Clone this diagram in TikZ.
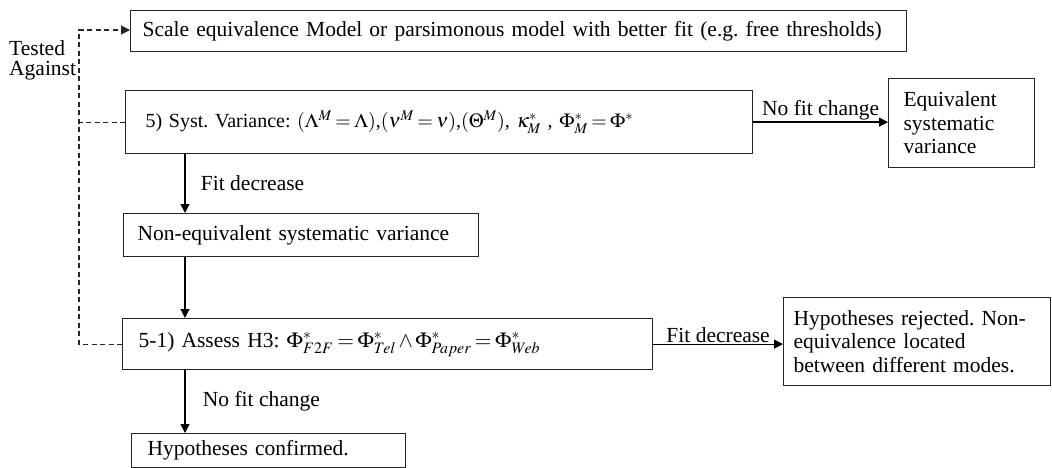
\documentclass[tikz,border=0pt]{standalone}
\usepackage{mathptmx}
\usepackage{fontspec}
\setmainfont{Liberation Serif}
\usepackage{tikz}
\usetikzlibrary{arrows.meta, positioning}
\frenchspacing
\thickmuskip=3mu
\medmuskip=2mu

\begin{document}
\begin{tikzpicture}[
  x=1pt, y=-1pt,
  font=\fontsize{21.5}{23.5}\selectfont,
  box/.style={
    draw=black!85,
    line width=1.2pt,
    anchor=north west,
    align=left,
    inner xsep=16pt,
    inner ysep=0pt
  },
  arrow/.style={
    draw=black,
    -{Triangle[length=9pt,width=9pt]},
    line width=1.2pt
  },
  testline/.style={
    draw=black!85,
    dash pattern=on 5pt off 3.5pt,
    line width=1.1pt
  }
]

\useasboundingbox (0,0) rectangle (1052,468);

% Model the tests are run against
\node[box, text width=752pt, minimum height=41pt, inner xsep=12pt] (scale) at (130,10)
{Scale equivalence Model or parsimonous model with better fit (e.g. free thresholds)};

% Step 5 and its outcomes
\node[box, text width=587pt, minimum height=63pt, inner xsep=20pt, font=\fontsize{20}{23}\selectfont] (syst) at (125,90)
{5) Syst. Variance: $(\Lambda^{M}=\Lambda)$,$(\nu^{M}=\nu)$,$(\Theta^{M})$, $\kappa^{*}_{M}$ , $\Phi^{*}_{M}=\Phi^{*}$};

\node[box, text width=116pt, minimum height=89pt, inner xsep=15pt] (equiv) at (888,78)
{Equivalent\\
systematic\\
variance};

\node[box, text width=327pt, minimum height=43pt, inner xsep=14pt] (noneq) at (123,213)
{Non-equivalent systematic variance};

% Step 5-1 and its outcomes
\node[box, text width=498pt, minimum height=51pt] (assess) at (122,318)
{5-1) Assess H3: $\Phi^{*}_{F2F}=\Phi^{*}_{Tel}\wedge\Phi^{*}_{Paper}=\Phi^{*}_{Web}$};

\node[box, text width=247pt, minimum height=88pt, inner xsep=10pt] (reject) at (783,297)
{Hypotheses rejected. Non-\\
equivalence located\\
between different modes.};

\node[box, text width=242pt, minimum height=34pt] (confirm) at (131,433)
{Hypotheses confirmed.};

% Tested against label
\node[align=left, inner sep=0pt, anchor=north west, font=\fontsize{21.5}{20}\selectfont] (tested) at (9,40)
{Tested\\Against};

% Helper coordinates
\coordinate (ttop) at (79,30);
\coordinate (spine) at (185,0);

% Dashed test lines
\draw[testline, -{Triangle[length=9pt,width=9pt]}] (assess.west) -| (ttop) -- (ttop -| scale.west);
\draw[testline] (syst.west) -- (syst.west -| ttop);

% Arrows between steps
\draw[arrow] (syst.east) -- (syst.east -| equiv.west)
  node[midway, above, inner sep=1pt] (nochg1) {No fit change};
\draw[arrow] (syst.south -| spine) -- (noneq.north -| spine)
  node[midway, right=12pt] (dec1) {Fit decrease};
\draw[arrow] (noneq.south -| spine) -- (assess.north -| spine);
\draw[arrow] (assess.east) -- (assess.east -| reject.west)
  node[midway, above, inner sep=1pt] (dec2) {Fit decrease};
\draw[arrow] (assess.south -| spine) -- (confirm.north -| spine)
  node[midway, right=14pt] (nochg2) {No fit change};

\end{tikzpicture}
\end{document}
